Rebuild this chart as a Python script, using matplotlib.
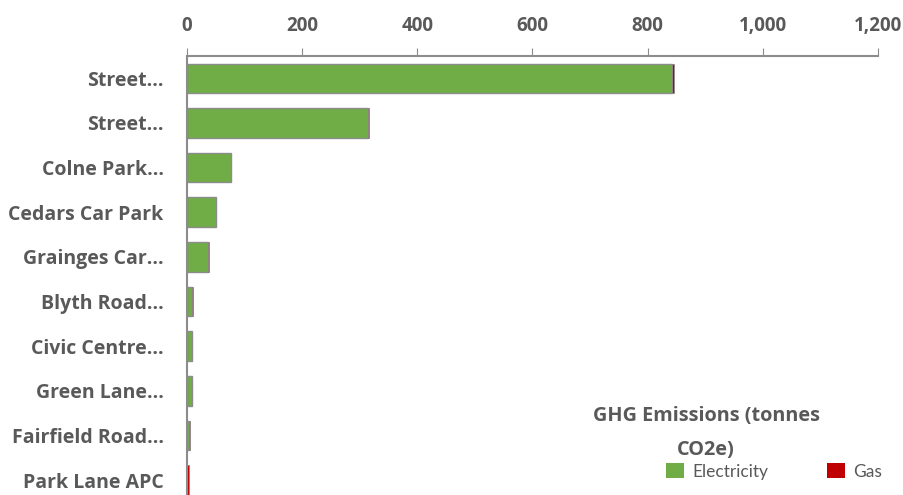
import matplotlib.pyplot as plt
from matplotlib.ticker import FuncFormatter

plt.rcParams['font.family'] = ['Open Sans', 'DejaVu Sans']

sites = ["Street...", "Street...", "Colne Park...", "Cedars Car Park", "Grainges Car...",
         "Blyth Road...", "Civic Centre...", "Green Lane...", "Fairfield Road...", "Park Lane APC"]
electricity = [843, 314, 76, 50, 36, 8, 8, 8, 4, 0.5]
gas = [3, 2, 1, 1, 2, 2, 0.5, 0.5, 1, 3]

grey = "#595959"

fig, ax = plt.subplots(figsize=(9.04, 4.95), dpi=100)
fig.subplots_adjust(left=0.207, right=0.971, top=0.887, bottom=-0.015)

ypos = list(range(len(sites)))
ax.barh(ypos, electricity, height=0.66, color="#70AD47", edgecolor="#8c8c8c",
        linewidth=1, label="Electricity")
ax.barh(ypos, gas, left=electricity, height=0.66, color="#C00000", edgecolor="#8c8c8c",
        linewidth=0.6, label="Gas")

ax.set_xlim(0, 1200)
ax.set_ylim(len(sites) - 0.5, -0.5)
ax.set_yticks(ypos)
ax.set_yticklabels(sites, fontsize=14, fontweight="bold", color=grey)
ax.tick_params(axis="y", length=0, pad=17)

ax.xaxis.tick_top()
ax.set_xticks(range(0, 1201, 200))
ax.xaxis.set_major_formatter(FuncFormatter(lambda v, p: f"{int(v):,}"))
ax.tick_params(axis="x", direction="out", length=6, color="#8c8c8c", pad=8,
               labelsize=13.5, labelcolor=grey)
for lbl in ax.get_xticklabels():
    lbl.set_fontweight("bold")

for side in ["right", "bottom"]:
    ax.spines[side].set_visible(False)
for side in ["top", "left"]:
    ax.spines[side].set_color("#8c8c8c")
    ax.spines[side].set_linewidth(1.5)

# legend entries, with the wrapped title set above them on its own
leg = ax.legend(loc="lower right", bbox_to_anchor=(1.029, 0.016), ncol=2, frameon=False,
                handlelength=1.0, handleheight=1.0, columnspacing=3.4,
                handletextpad=0.5, prop={"family": "Lato", "size": 12.5})
for t in leg.get_texts():
    t.set_color(grey)
for h in leg.legend_handles:
    h.set_edgecolor("none")

fig.text(0.781, 0.07, "GHG Emissions (tonnes\nCO2e)", ha="center", va="bottom",
         fontsize=14.3, fontweight="bold", color=grey, linespacing=1.95,
         multialignment="center")

fig.savefig("out.png", dpi=100)
